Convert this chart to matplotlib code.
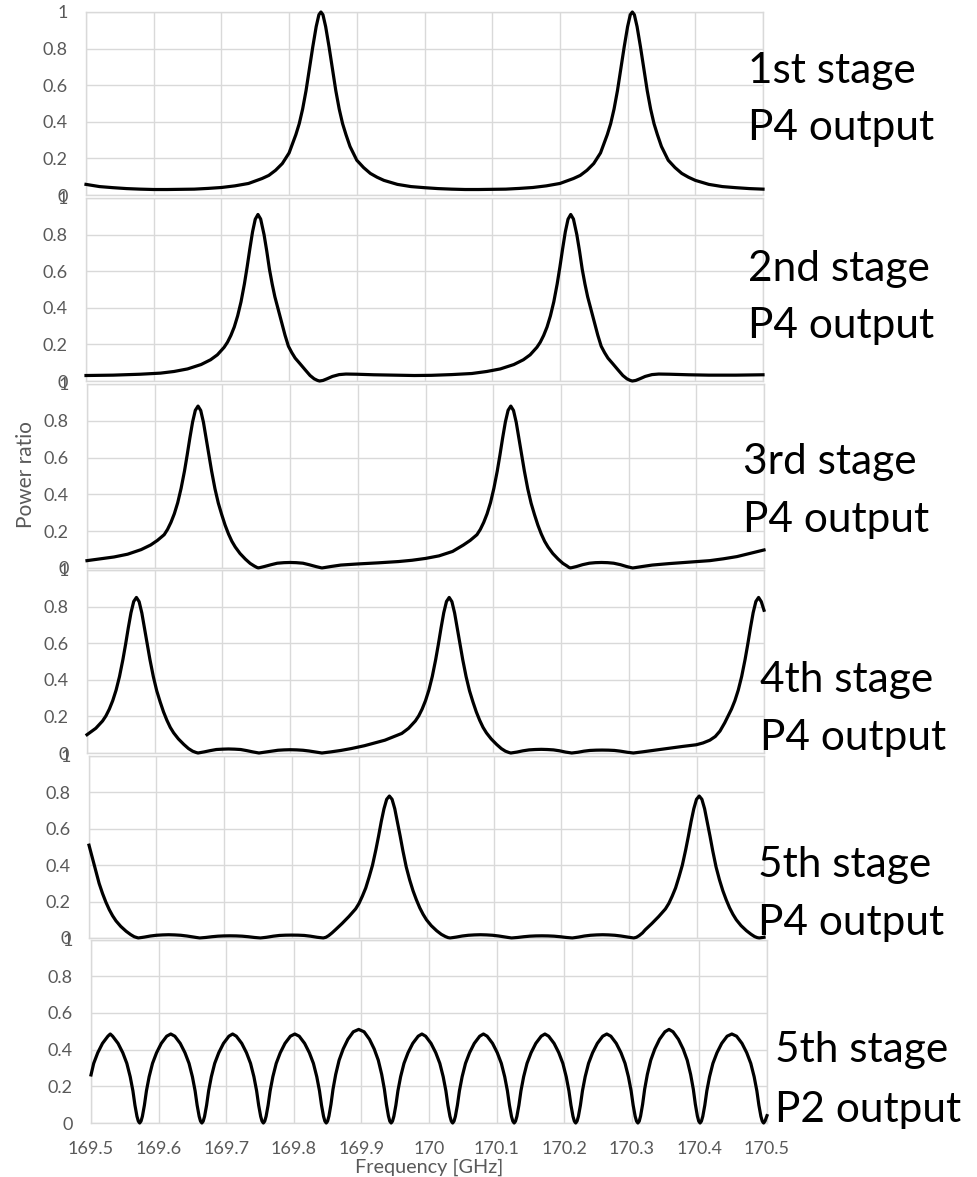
import matplotlib
matplotlib.use("Agg")
import matplotlib.pyplot as plt

plt.rcParams['font.family'] = ['Lato', 'DejaVu Sans']

# ---- data: (frequency GHz, power ratio) for each stage output ----
stage1_p4 = [
    (169.50, .058), (169.52, .046), (169.54, .040), (169.56, .035), (169.58, .032), (169.60, .030),
    (169.62, .030), (169.64, .031), (169.66, .032), (169.68, .036), (169.70, .041), (169.72, .050),
    (169.74, .063), (169.76, .090), (169.77, .107), (169.78, .135), (169.79, .172), (169.80, .23),
    (169.81, .33), (169.815, .39), (169.82, .47), (169.825, .57), (169.83, .69), (169.835, .81),
    (169.84, .92), (169.844, .985), (169.847, 1.0), (169.85, .985), (169.854, .92), (169.859, .81),
    (169.864, .69), (169.869, .57), (169.874, .47), (169.879, .39), (169.884, .33), (169.89, .265),
    (169.90, .19), (169.91, .15), (169.92, .118), (169.93, .097), (169.94, .080), (169.96, .058),
    (169.98, .046), (170.00, .040), (170.02, .035), (170.04, .032), (170.06, .030), (170.08, .030),
    (170.10, .031), (170.12, .032), (170.14, .036), (170.16, .041), (170.18, .050), (170.20, .063),
    (170.22, .090), (170.23, .107), (170.24, .135), (170.25, .172), (170.26, .23), (170.27, .33),
    (170.275, .39), (170.28, .47), (170.285, .57), (170.29, .69), (170.295, .81), (170.30, .92),
    (170.304, .985), (170.307, 1.0), (170.31, .985), (170.314, .92), (170.319, .81), (170.324, .69),
    (170.329, .57), (170.334, .47), (170.339, .39), (170.344, .33), (170.35, .265), (170.36, .19),
    (170.37, .15), (170.38, .118), (170.39, .097), (170.40, .080), (170.42, .058), (170.44, .046),
    (170.46, .040), (170.48, .035), (170.50, .032),
]

stage2_p4 = [
    (169.50, .030), (169.54, .032), (169.58, .037), (169.61, .043), (169.63, .052), (169.65, .066),
    (169.67, .09), (169.684, .116), (169.694, .143), (169.704, .184), (169.709, .212), (169.714, .249),
    (169.719, .295), (169.724, .356), (169.729, .433), (169.734, .531), (169.738, .623), (169.742, .722),
    (169.746, .815), (169.75, .884), (169.754, .91), (169.758, .885), (169.763, .80), (169.767, .71),
    (169.771, .61), (169.775, .53), (169.779, .46), (169.784, .39), (169.789, .32), (169.794, .25),
    (169.799, .19), (169.804, .155), (169.809, .125), (169.816, .095), (169.824, .06), (169.831, .03),
    (169.837, .012), (169.842, .003), (169.845, 0), (169.85, .003), (169.856, .012), (169.864, .025),
    (169.874, .035), (169.884, .038), (169.90, .037), (169.925, .034), (169.955, .032), (169.985, .030),
    (170.01, .031), (170.04, .035), (170.07, .041), (170.092, .052), (170.112, .066), (170.132, .09),
    (170.146, .116), (170.156, .143), (170.166, .184), (170.171, .212), (170.176, .249), (170.181, .295),
    (170.186, .356), (170.191, .433), (170.196, .531), (170.20, .623), (170.204, .722), (170.208, .815),
    (170.212, .884), (170.216, .91), (170.22, .885), (170.225, .80), (170.229, .71), (170.233, .61),
    (170.237, .53), (170.241, .46), (170.246, .39), (170.251, .32), (170.256, .25), (170.261, .19),
    (170.266, .155), (170.271, .125), (170.278, .095), (170.286, .06), (170.293, .03), (170.299, .012),
    (170.304, .003), (170.307, 0), (170.312, .003), (170.318, .012), (170.326, .025), (170.336, .035),
    (170.346, .038), (170.362, .037), (170.39, .034), (170.42, .032), (170.46, .032), (170.50, .034),
]

stage3_p4 = [
    (169.50, .040), (169.52, .050), (169.54, .060), (169.56, .075), (169.58, .10), (169.594, .125),
    (169.604, .15), (169.614, .181), (169.619, .21), (169.624, .248), (169.629, .295), (169.634, .355),
    (169.639, .433), (169.644, .527), (169.648, .615), (169.652, .708), (169.656, .794), (169.66, .857),
    (169.664, .88), (169.668, .856), (169.672, .792), (169.676, .704), (169.68, .616), (169.684, .528),
    (169.689, .431), (169.694, .352), (169.699, .29), (169.704, .233), (169.709, .185), (169.714, .145),
    (169.719, .114), (169.726, .079), (169.734, .048), (169.741, .025), (169.747, .011), (169.751, .003),
    (169.753, 0), (169.762, .008), (169.772, .018), (169.781, .026), (169.791, .029), (169.80, .03),
    (169.809, .029), (169.819, .026), (169.828, .018), (169.838, .008), (169.847, 0), (169.86, .008),
    (169.875, .016), (169.90, .022), (169.93, .028), (169.96, .035), (169.98, .042), (170.00, .052),
    (170.02, .066), (170.04, .09), (170.056, .125), (170.066, .15), (170.076, .181), (170.081, .21),
    (170.086, .248), (170.091, .295), (170.096, .355), (170.101, .433), (170.106, .527), (170.11, .615),
    (170.114, .708), (170.118, .794), (170.122, .857), (170.126, .88), (170.13, .856), (170.134, .792),
    (170.138, .704), (170.142, .616), (170.146, .528), (170.151, .431), (170.156, .352), (170.161, .29),
    (170.166, .233), (170.171, .185), (170.176, .145), (170.181, .114), (170.188, .079), (170.196, .048),
    (170.203, .025), (170.209, .011), (170.212, .003), (170.214, 0), (170.223, .008), (170.232, .018),
    (170.242, .026), (170.251, .029), (170.26, .03), (170.269, .029), (170.278, .026), (170.288, .018),
    (170.297, .008), (170.306, 0), (170.32, .008), (170.335, .016), (170.36, .024), (170.39, .032),
    (170.42, .04), (170.44, .05), (170.46, .062), (170.48, .08), (170.50, .098),
]

stage4_p4 = [
    (169.50, .10), (169.513, .135), (169.523, .175), (169.528, .203), (169.533, .24), (169.538, .286),
    (169.543, .344), (169.548, .418), (169.553, .51), (169.557, .594), (169.561, .684), (169.565, .767),
    (169.569, .828), (169.573, .85), (169.577, .827), (169.581, .765), (169.585, .68), (169.589, .595),
    (169.593, .51), (169.598, .417), (169.603, .34), (169.608, .28), (169.613, .225), (169.618, .179),
    (169.623, .14), (169.628, .11), (169.635, .077), (169.643, .047), (169.65, .024), (169.656, .01),
    (169.661, .003), (169.664, 0),
    (169.673, .006), (169.682, .013), (169.691, .019), (169.70, .021), (169.709, .022), (169.718, .021),
    (169.727, .019), (169.736, .013), (169.745, .006), (169.754, 0),
    (169.763, .005), (169.773, .011), (169.782, .015), (169.791, .017), (169.80, .018), (169.81, .017),
    (169.819, .015), (169.828, .011), (169.838, .005), (169.847, 0),
    (169.86, .006), (169.875, .014), (169.89, .024), (169.91, .04), (169.925, .055), (169.94, .07),
    (169.95, .085), (169.965, .107), (169.975, .135), (169.985, .175), (169.99, .203), (169.995, .24),
    (170.00, .286), (170.005, .344), (170.01, .418), (170.015, .51), (170.019, .594), (170.023, .684),
    (170.027, .767), (170.031, .828), (170.035, .85),
    (170.039, .827), (170.043, .765), (170.047, .68), (170.051, .595), (170.055, .51), (170.06, .417),
    (170.065, .34), (170.07, .28), (170.075, .225), (170.08, .179), (170.085, .14), (170.09, .11),
    (170.097, .077), (170.105, .047), (170.112, .024), (170.118, .01), (170.123, .003), (170.126, 0),
    (170.135, .005), (170.144, .012), (170.153, .017), (170.162, .019), (170.171, .02), (170.18, .019),
    (170.189, .017), (170.198, .012), (170.207, .005), (170.216, 0),
    (170.225, .004), (170.234, .01), (170.243, .014), (170.252, .0155), (170.261, .016), (170.27, .0155),
    (170.279, .014), (170.288, .01), (170.298, .004), (170.307, 0),
    (170.32, .006), (170.34, .016), (170.36, .026), (170.38, .036), (170.40, .045), (170.41, .055),
    (170.42, .07), (170.428, .09), (170.435, .12), (170.442, .165), (170.447, .203), (170.452, .24),
    (170.457, .286), (170.462, .344), (170.467, .418), (170.472, .51), (170.476, .594), (170.48, .684),
    (170.484, .767), (170.488, .828), (170.492, .85), (170.496, .827), (170.50, .78),
]

stage5_p4 = [
    (169.50, .51), (169.505, .44), (169.51, .37), (169.515, .30), (169.52, .245), (169.525, .197),
    (169.53, .156), (169.535, .122), (169.54, .094), (169.547, .064), (169.555, .037), (169.562, .018),
    (169.567, .007), (169.571, .002), (169.573, 0),
    (169.582, .005), (169.591, .011), (169.60, .015), (169.609, .017), (169.618, .018), (169.627, .017),
    (169.636, .015), (169.645, .011), (169.655, .005), (169.664, 0),
    (169.673, .003), (169.682, .007), (169.691, .01), (169.70, .0115), (169.709, .012), (169.718, .0115),
    (169.727, .01), (169.736, .007), (169.745, .003), (169.754, 0),
    (169.763, .004), (169.773, .01), (169.782, .014), (169.791, .0155), (169.80, .016), (169.81, .0155),
    (169.819, .014), (169.828, .01), (169.838, .004), (169.847, 0),
    (169.851, .004), (169.855, .013), (169.86, .028), (169.865, .045), (169.875, .08), (169.885, .118),
    (169.895, .16), (169.90, .19), (169.905, .23), (169.91, .275), (169.915, .335), (169.92, .40),
    (169.925, .485), (169.929, .56), (169.933, .64), (169.937, .71), (169.941, .762), (169.945, .78),
    (169.949, .762), (169.953, .71), (169.957, .635), (169.961, .56), (169.965, .48), (169.97, .39),
    (169.975, .32), (169.98, .26), (169.985, .21), (169.99, .166), (169.995, .13), (170.00, .10),
    (170.007, .068), (170.015, .04), (170.022, .02), (170.028, .008), (170.032, .002), (170.035, 0),
    (170.044, .005), (170.053, .011), (170.062, .015), (170.071, .017), (170.08, .018), (170.089, .017),
    (170.098, .015), (170.107, .011), (170.117, .005), (170.126, 0),
    (170.135, .003), (170.144, .007), (170.153, .01), (170.162, .0115), (170.171, .012), (170.18, .0115),
    (170.189, .01), (170.198, .007), (170.207, .003), (170.216, 0),
    (170.225, .005), (170.234, .011), (170.243, .015), (170.252, .017), (170.261, .018), (170.27, .017),
    (170.279, .015), (170.288, .011), (170.298, .005), (170.307, 0),
    (170.311, .004), (170.315, .013), (170.32, .028), (170.324, .045), (170.334, .08), (170.344, .118),
    (170.354, .16), (170.359, .19), (170.364, .23), (170.369, .275), (170.374, .335), (170.379, .40),
    (170.384, .485), (170.388, .56), (170.392, .64), (170.396, .71), (170.40, .762), (170.404, .78),
    (170.408, .762), (170.412, .71), (170.416, .635), (170.42, .56), (170.424, .48), (170.429, .39),
    (170.434, .32), (170.439, .26), (170.444, .21), (170.449, .166), (170.454, .13), (170.459, .10),
    (170.466, .068), (170.474, .04), (170.481, .02), (170.486, .008), (170.49, .002), (170.493, 0),
    (170.50, .004),
]

stage5_p2 = [
    (169.500, .262), (169.504, .325), (169.510, .383), (169.517, .434), (169.525, .473), (169.5285, .485),
    (169.532, .473), (169.540, .434), (169.547, .383), (169.553, .325), (169.558, .252), (169.562, .175),
    (169.565, .097), (169.568, .036), (169.570, .010), (169.572, 0),
    (169.574, .010), (169.576, .036), (169.579, .097), (169.582, .175), (169.586, .252), (169.591, .325),
    (169.597, .383), (169.604, .434), (169.612, .473), (169.618, .485), (169.624, .473), (169.632, .434),
    (169.639, .383), (169.645, .325), (169.650, .252), (169.654, .175), (169.657, .097), (169.660, .036),
    (169.662, .010), (169.664, 0),
    (169.666, .010), (169.668, .036), (169.671, .097), (169.674, .175), (169.678, .252), (169.683, .325),
    (169.689, .383), (169.696, .434), (169.704, .473), (169.7095, .485), (169.715, .473), (169.723, .434),
    (169.730, .383), (169.736, .325), (169.741, .252), (169.745, .175), (169.748, .097), (169.751, .036),
    (169.753, .010), (169.755, 0),
    (169.757, .010), (169.759, .036), (169.762, .097), (169.765, .175), (169.769, .252), (169.774, .325),
    (169.780, .383), (169.787, .434), (169.795, .473), (169.8015, .485), (169.808, .473), (169.816, .434),
    (169.823, .383), (169.829, .325), (169.834, .252), (169.838, .175), (169.841, .097), (169.844, .036),
    (169.846, .010), (169.848, 0),
    (169.850, .010), (169.852, .038), (169.855, .102), (169.858, .184), (169.862, .265), (169.867, .342),
    (169.873, .403), (169.880, .456), (169.888, .497), (169.896, .51), (169.904, .497), (169.912, .456),
    (169.919, .403), (169.925, .342), (169.930, .265), (169.934, .184), (169.937, .102), (169.940, .038),
    (169.942, .010), (169.944, 0),
    (169.946, .010), (169.948, .036), (169.951, .097), (169.954, .175), (169.958, .252), (169.963, .325),
    (169.969, .383), (169.976, .434), (169.984, .473), (169.9895, .485), (169.995, .473), (170.003, .434),
    (170.010, .383), (170.016, .325), (170.021, .252), (170.025, .175), (170.028, .097), (170.031, .036),
    (170.033, .010), (170.035, 0),
    (170.037, .010), (170.039, .036), (170.042, .097), (170.045, .175), (170.049, .252), (170.054, .325),
    (170.060, .383), (170.067, .434), (170.075, .473), (170.0805, .485), (170.086, .473), (170.094, .434),
    (170.101, .383), (170.107, .325), (170.112, .252), (170.116, .175), (170.119, .097), (170.122, .036),
    (170.124, .010), (170.126, 0),
    (170.128, .010), (170.130, .036), (170.133, .097), (170.136, .175), (170.140, .252), (170.145, .325),
    (170.151, .383), (170.158, .434), (170.166, .473), (170.1715, .485), (170.177, .473), (170.185, .434),
    (170.192, .383), (170.198, .325), (170.203, .252), (170.207, .175), (170.210, .097), (170.213, .036),
    (170.215, .010), (170.217, 0),
    (170.219, .010), (170.221, .036), (170.224, .097), (170.227, .175), (170.231, .252), (170.236, .325),
    (170.242, .383), (170.249, .434), (170.257, .473), (170.263, .485), (170.269, .473), (170.277, .434),
    (170.284, .383), (170.290, .325), (170.295, .252), (170.299, .175), (170.302, .097), (170.305, .036),
    (170.307, .010), (170.309, 0),
    (170.311, .010), (170.313, .038), (170.316, .102), (170.319, .184), (170.323, .265), (170.328, .342),
    (170.334, .403), (170.341, .456), (170.349, .497), (170.355, .51), (170.361, .497), (170.369, .456),
    (170.376, .403), (170.382, .342), (170.387, .265), (170.391, .184), (170.394, .102), (170.397, .038),
    (170.399, .010), (170.401, 0),
    (170.403, .010), (170.405, .036), (170.408, .097), (170.411, .175), (170.415, .252), (170.420, .325),
    (170.426, .383), (170.433, .434), (170.441, .473), (170.448, .485), (170.455, .473), (170.463, .434),
    (170.470, .383), (170.476, .325), (170.481, .252), (170.485, .175), (170.488, .097), (170.491, .036),
    (170.493, .010), (170.495, 0),
    (170.497, .010), (170.500, .04),
]

series = [stage1_p4, stage2_p4, stage3_p4, stage4_p4, stage5_p4, stage5_p2]
stage_names = [("1st stage", "P4 output"), ("2nd stage", "P4 output"), ("3rd stage", "P4 output"),
               ("4th stage", "P4 output"), ("5th stage", "P4 output"), ("5th stage", "P2 output")]

x_ticks = [169.5, 169.6, 169.7, 169.8, 169.9, 170.0, 170.1, 170.2, 170.3, 170.4, 170.5]
x_tick_labels = ["169.5", "169.6", "169.7", "169.8", "169.9", "170",
                 "170.1", "170.2", "170.3", "170.4", "170.5"]
y_ticks = [0, 0.2, 0.4, 0.6, 0.8, 1.0]
y_tick_labels = ["0", "0.2", "0.4", "0.6", "0.8", "1"]

# ---- layout (pixels) ----
W, H = 978, 1177
panel_px = [(86, 763, 12, 195), (86, 763, 198, 381), (87, 764, 384, 568),
            (87, 764, 570, 753), (89, 764, 756, 938), (91, 767, 939.5, 1123)]
label_px = [((748, 83), (748, 140)), ((748, 281), (748, 338)), ((743, 474), (743, 532)),
            ((760, 692), (760, 750)), ((758, 877), (758, 935)), ((775, 1062), (775, 1122))]

GRID = '#d9d9d9'
TICK = '#595959'

fig = plt.figure(figsize=(W / 100, H / 100), dpi=100)
fig.patch.set_facecolor('white')

for i, (data, (l, r, t, b)) in enumerate(zip(series, panel_px)):
    ax = fig.add_axes([l / W, 1 - b / H, (r - l) / W, (b - t) / H])
    ax.set_facecolor('none')
    freq = [p[0] for p in data]
    ratio = [p[1] for p in data]
    ax.plot(freq, ratio, color='black', lw=2.3, solid_joinstyle='round', clip_on=False, zorder=3)
    ax.set_xlim(169.5, 170.5)
    ax.set_ylim(0, 1)
    ax.set_xticks(x_ticks)
    ax.set_yticks(y_ticks)
    ax.set_yticklabels(y_tick_labels)
    if i == len(series) - 1:
        ax.set_xticklabels(x_tick_labels)
    else:
        ax.set_xticklabels([])
    ax.grid(True, color=GRID, lw=1.0, zorder=0)
    for sp in ax.spines.values():
        sp.set_color(GRID)
        sp.set_linewidth(1.0)
    ax.tick_params(axis='both', length=0, colors=TICK, labelsize=13)
    ax.tick_params(axis='y', pad=13)
    ax.tick_params(axis='x', pad=13)

    (x1, y1), (x2, y2) = label_px[i]
    fig.text(x1 / W, 1 - y1 / H, stage_names[i][0], ha='left', va='baseline', fontsize=30.5, color='black')
    fig.text(x2 / W, 1 - y2 / H, stage_names[i][1], ha='left', va='baseline', fontsize=30.5, color='black')

fig.text(26 / W, 1 - 475 / H, 'Power ratio', rotation=90, ha='center', va='center', fontsize=15, color=TICK)
fig.text(429 / W, 1 - 1167 / H, 'Frequency [GHz]', ha='center', va='center', fontsize=14.3, color=TICK)

fig.savefig('out.png', dpi=100, facecolor='white')
